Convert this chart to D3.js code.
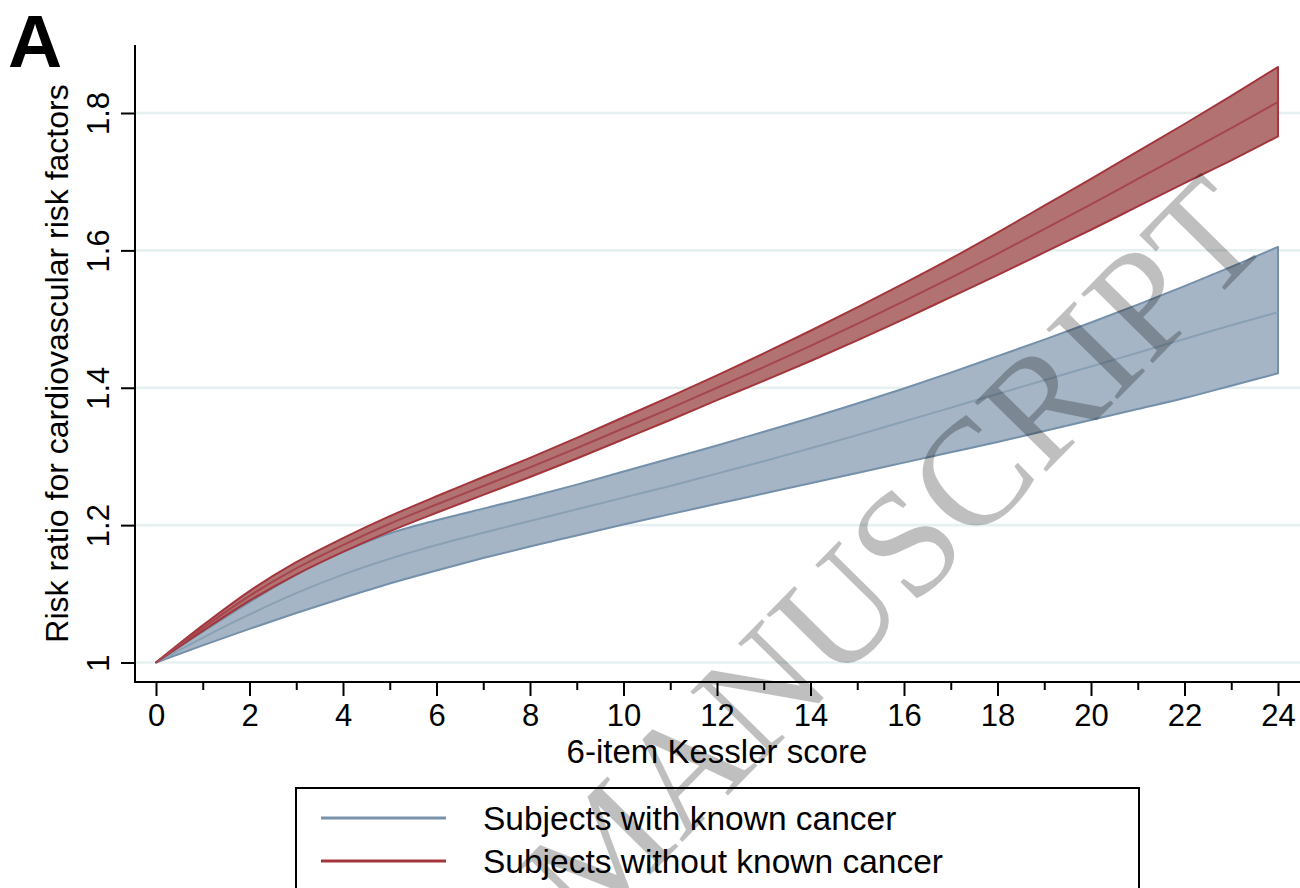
<!DOCTYPE html>
<html>
<head>
<meta charset="utf-8">
<script src="https://cdn.jsdelivr.net/npm/d3@7"></script>
<style>
  html, body { margin: 0; padding: 0; background: #fff; }
  svg { display: block; }
  text { font-family: "Liberation Sans", Arial, Helvetica, sans-serif; fill: #000; }
</style>
</head>
<body>
<svg id="chart" width="1300" height="888"></svg>
<script>
// Kessler score values (x) and predicted risk ratios with confidence bands
const kessler = d3.range(0, 25);

const cancerMid = [1.000,1.036,1.070,1.101,1.128,1.151,1.171,1.189,1.206,1.223,1.240,1.257,1.275,1.293,1.312,1.331,1.351,1.371,1.391,1.411,1.431,1.451,1.471,1.491,1.510];
const cancerHi  = [1.000,1.045,1.088,1.128,1.161,1.188,1.207,1.224,1.241,1.259,1.278,1.297,1.316,1.336,1.356,1.377,1.399,1.422,1.446,1.470,1.495,1.521,1.548,1.576,1.605];
const cancerLo  = [1.000,1.025,1.049,1.072,1.094,1.115,1.134,1.152,1.169,1.185,1.201,1.216,1.231,1.246,1.261,1.276,1.291,1.306,1.321,1.337,1.353,1.369,1.385,1.403,1.421];

const noCancerMid = [1.000,1.050,1.097,1.137,1.171,1.202,1.230,1.257,1.284,1.312,1.341,1.370,1.400,1.430,1.461,1.493,1.526,1.560,1.595,1.631,1.667,1.704,1.741,1.778,1.816];
const noCancerHi  = [1.000,1.054,1.104,1.146,1.181,1.213,1.242,1.270,1.298,1.327,1.357,1.387,1.418,1.450,1.483,1.517,1.552,1.588,1.626,1.665,1.704,1.744,1.784,1.825,1.867];
const noCancerLo  = [1.000,1.046,1.090,1.128,1.161,1.191,1.218,1.244,1.270,1.297,1.325,1.353,1.382,1.410,1.439,1.469,1.500,1.532,1.564,1.597,1.630,1.664,1.698,1.731,1.766];

const xMajorTicks = [0, 2, 4, 6, 8, 10, 12, 14, 16, 18, 20, 22, 24];
const xMinorTicks = [1, 3, 5, 7, 9, 11, 13, 15, 17, 19, 21, 23];
const yTicks = [1, 1.2, 1.4, 1.6, 1.8];
const yTickLabels = ["1", "1.2", "1.4", "1.6", "1.8"];

const seriesNames = ["Subjects with known cancer", "Subjects without known cancer"];

// Layout
const axisX = 135, axisTop = 45, axisBottom = 682, plotRight = 1300;

const svg = d3.select("#chart");

const x = d3.scaleLinear().domain([0, 24]).range([156, 1278]);
const y = d3.scaleLinear().domain([1, 1.8]).range([662.5, 113]);

// Gridlines
svg.append("g").selectAll("line").data(yTicks).join("line")
  .attr("x1", axisX).attr("x2", plotRight)
  .attr("y1", d => y(d)).attr("y2", d => y(d))
  .attr("stroke", "#e7f0f1").attr("stroke-width", 2.6);

function bandData(lo, hi, mid) {
  return kessler.map((k, i) => ({ k, lo: lo[i], hi: hi[i], mid: mid[i] }));
}

const area = d3.area().x(d => x(d.k)).y0(d => y(d.lo)).y1(d => y(d.hi)).curve(d3.curveMonotoneX);
const line = d3.line().x(d => x(d.k)).y(d => y(d.mid)).curve(d3.curveMonotoneX);

const bands = [
  { data: bandData(cancerLo, cancerHi, cancerMid), fill: "#a5b5c5", edge: "#7590aa", mid: "#8aa0b5" },
  { data: bandData(noCancerLo, noCancerHi, noCancerMid), fill: "#b27272", edge: "#a3363d", mid: "#a5454d" }
];

const bandG = svg.append("g");
bands.forEach(b => {
  bandG.append("path").datum(b.data).attr("d", area)
    .attr("fill", b.fill).attr("stroke", b.edge).attr("stroke-width", 2).attr("stroke-linejoin", "round");
  bandG.append("path").datum(b.data).attr("d", line)
    .attr("fill", "none").attr("stroke", b.mid).attr("stroke-width", 2);
});

// X axis
const xAxisG = svg.append("g").attr("transform", `translate(0,${axisBottom})`);
xAxisG.call(d3.axisBottom(x).tickValues(xMajorTicks).tickSize(14).tickPadding(8).tickFormat(d3.format("d")));
xAxisG.select(".domain").remove();
xAxisG.selectAll(".tick line").attr("stroke", "#000").attr("stroke-width", 2);
xAxisG.selectAll(".tick text").attr("font-size", 31).attr("font-family", null);

const xMinorG = svg.append("g").attr("transform", `translate(0,${axisBottom})`);
xMinorG.call(d3.axisBottom(x).tickValues(xMinorTicks).tickSize(8).tickFormat(""));
xMinorG.select(".domain").remove();
xMinorG.selectAll(".tick line").attr("stroke", "#000").attr("stroke-width", 2);

svg.append("line").attr("x1", axisX - 1).attr("x2", plotRight)
  .attr("y1", axisBottom).attr("y2", axisBottom).attr("stroke", "#000").attr("stroke-width", 2);

// Y axis
const yAxisG = svg.append("g").attr("transform", `translate(${axisX},0)`);
yAxisG.call(d3.axisLeft(y).tickValues(yTicks).tickSize(14).tickFormat((d, i) => yTickLabels[i]));
yAxisG.select(".domain").remove();
yAxisG.selectAll(".tick line").attr("stroke", "#000").attr("stroke-width", 2);
yAxisG.selectAll(".tick text")
  .attr("font-size", 31).attr("font-family", null)
  .attr("x", 0).attr("y", -26).attr("dy", null)
  .attr("text-anchor", "middle").attr("transform", "rotate(-90)");

svg.append("line").attr("x1", axisX).attr("x2", axisX)
  .attr("y1", axisTop).attr("y2", axisBottom + 1).attr("stroke", "#000").attr("stroke-width", 2);

// Axis titles
svg.append("text").attr("x", (x(0) + x(24)) / 2).attr("y", 763)
  .attr("text-anchor", "middle").attr("font-size", 33).text("6-item Kessler score");

svg.append("text").attr("transform", `translate(68,${(axisTop + axisBottom) / 2}) rotate(-90)`)
  .attr("text-anchor", "middle").attr("font-size", 32).text("Risk ratio for cardiovascular risk factors");

// Panel letter
svg.append("text").attr("x", 8).attr("y", 67).attr("font-size", 75).attr("font-weight", "bold").text("A");

// Legend
const legend = svg.append("g");
legend.append("rect").attr("x", 296).attr("y", 788).attr("width", 843).attr("height", 130)
  .attr("fill", "#fff").attr("stroke", "#000").attr("stroke-width", 2);
const legendRows = [
  { name: seriesNames[0], color: "#7a93ab", ly: 818, ty: 830 },
  { name: seriesNames[1], color: "#a3363d", ly: 861, ty: 873 }
];
legendRows.forEach(r => {
  legend.append("line").attr("x1", 321).attr("x2", 446).attr("y1", r.ly).attr("y2", r.ly)
    .attr("stroke", r.color).attr("stroke-width", 3);
  legend.append("text").attr("x", 483).attr("y", r.ty).attr("font-size", 33.5).text(r.name);
});

// Watermark
svg.append("text")
  .attr("transform", "translate(930,590) rotate(-45.5)")
  .attr("text-anchor", "middle")
  .attr("font-size", 152)
  .style("font-family", "'Liberation Serif', 'Times New Roman', serif")
  .style("fill", "#000")
  .style("fill-opacity", 0.25)
  .text("MANUSCRIPT");
</script>
</body>
</html>
